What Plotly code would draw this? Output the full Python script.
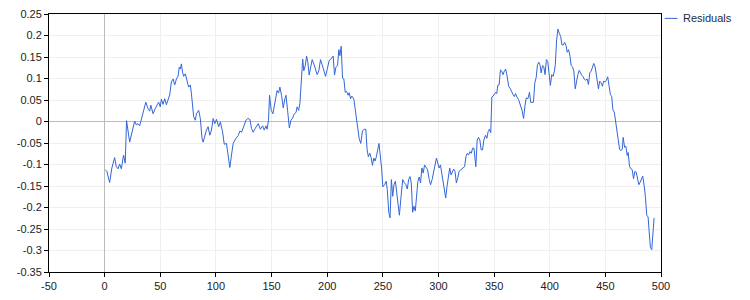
import plotly.graph_objects as go

x_vals = [
    0.6, 2, 4.5, 6.5, 9, 10.5, 12, 13.5, 15, 17, 18.5, 19.7, 22.5, 24.5, 27, 28.5, 30, 31.5, 33.5, 36,
    37, 39, 40.5, 41.5, 43.5, 45.5, 47, 48.5, 50, 51, 52.5, 54, 55.5, 57, 58.5, 60, 61.5, 63, 64.5, 66,
    67, 68, 69, 70, 71, 72.5, 74, 75.5, 77, 78, 80, 81.5, 82.5, 84.5, 86, 87.5, 88.5, 90, 91.5, 93,
    94.5, 96, 97.5, 99, 100.5, 102.5, 104, 106, 107.5, 109.5, 111, 112.5, 114, 115.5, 118, 120,
    121.6, 123, 124.5, 127, 128.7, 130.5, 132, 133.5, 135.3, 138, 140, 142, 143.4, 145, 146, 147.3,
    148.2, 149.7, 151.2, 152, 153, 154, 155, 156.3, 157.5, 159, 160.5, 162, 163, 164.4, 166, 167.4,
    169, 170.4, 172, 173, 174.3, 175.5, 176.7, 178, 179, 180.3, 181.5, 182.6, 183.8, 185, 186.5, 188,
    189.5, 191, 192.5, 194, 195.5, 197, 198.5, 200, 201.8, 203.3, 205.4, 206.6, 207.8, 209.3, 210.5,
    211.4, 212.6, 213.8, 215, 216.2, 217.4, 218.9, 219.8, 221, 222.2, 224, 225.4, 227, 227.8, 228.7,
    230.2, 231.7, 233.2, 234.7, 235.9, 237, 238.3, 239.5, 240.7, 241.9, 243, 244.2, 245.4, 246.6,
    249, 250, 251.5, 253, 254, 255.4, 256.5, 257.7, 258.9, 260, 261.3, 262.5, 263.7, 264.9, 266.4,
    267.9, 269.3, 270.8, 272, 273.2, 274.4, 275.6, 276.8, 278, 279.2, 280.4, 281.5, 282.7, 283.9,
    285.1, 286.3, 287.5, 288.7, 290.2, 291.7, 292.9, 294.3, 295.8, 297, 298.2, 299.4, 300.6, 301.8,
    303, 304.2, 305.4, 306.5, 307.7, 308.9, 310.1, 311.3, 312.5, 313.7, 314.9, 316.1, 317.3, 318.5,
    320.2, 322, 323.5, 324.7, 325.9, 327.1, 328.3, 329.5, 330.7, 331.9, 333.6, 334.8, 336, 337.2,
    338.4, 339.6, 340.8, 342.3, 343.5, 344.6, 345.8, 347, 348, 349.1, 350.3, 351.5, 352.4, 353.3,
    354.5, 355.7, 356.9, 358, 359.2, 360.4, 361.6, 363.1, 364.6, 365.8, 367, 368.2, 369.3, 370.5, 372,
    375, 376.5, 377.7, 378.9, 380.4, 381.8, 383, 384.2, 385.4, 386.6, 387.8, 389, 390.2, 391.4, 392.3,
    393.5, 394.6, 395.8, 397, 398.2, 399.4, 400.6, 401.8, 403, 404.2, 405, 406.2, 407.4, 408.6, 409.8,
    411, 412.2, 413.4, 414.6, 415.8, 417, 418.2, 419.3, 420.5, 421.7, 422.9, 424.1, 425.3, 426.5,
    427.7, 428.9, 430, 431.2, 432.4, 433.6, 434.8, 436, 437.2, 438.4, 439.6, 440.8, 442, 442.9, 443.8,
    444.9, 446.1, 447.3, 448.5, 449.7, 450.9, 452.1, 453.3, 454.5, 455.7, 456.8, 458, 459.2, 460.4,
    461.6, 462.8, 464, 465.2, 466, 467.3, 468.5, 469.6, 470.5, 471.7, 472.9, 474.1, 475.3, 476.5,
    477.7, 478.9, 480.1, 481.3, 482.4, 483.6, 484.8, 486, 487.2, 488.4, 489.6, 490.5, 491.7, 492.6,
    493.8,
]

residuals = [
    -0.112, -0.116, -0.142, -0.108, -0.084, -0.105, -0.11, -0.099, -0.11, -0.078, -0.097, 0.002,
    -0.048, -0.028, 0.001, -0.008, -0.005, -0.01, 0.011, 0.038, 0.045, 0.03, 0.024, 0.038, 0.018,
    0.03, 0.038, 0.045, 0.034, 0.052, 0.04, 0.053, 0.039, 0.049, 0.062, 0.092, 0.099, 0.085, 0.099,
    0.105, 0.126, 0.122, 0.134, 0.115, 0.105, 0.111, 0.095, 0.08, 0.085, 0.065, 0.011, 0.003, 0.018,
    0.026, 0.007, -0.039, -0.048, -0.032, -0.02, -0.012, -0.032, -0.02, 0.007, -0.005, 0.005,
    -0.012, -0.001, -0.024, -0.053, -0.051, -0.085, -0.107, -0.078, -0.051, -0.039, -0.033,
    -0.022, -0.025, -0.015, 0.003, 0.007, 0.005, -0.016, -0.025, -0.016, -0.005, -0.018, -0.01,
    -0.02, -0.01, -0.018, 0.003, 0.061, 0.026, 0.018, 0.03, 0.052, 0.062, 0.072, 0.066, 0.08, 0.061,
    0.032, 0.053, 0.061, 0.026, -0.015, 0.003, 0.008, 0.018, 0.021, 0.034, 0.026, 0.042, 0.107,
    0.145, 0.118, 0.13, 0.152, 0.138, 0.108, 0.122, 0.144, 0.134, 0.122, 0.109, 0.118, 0.144, 0.132,
    0.116, 0.105, 0.121, 0.142, 0.145, 0.152, 0.108, 0.126, 0.13, 0.167, 0.153, 0.175, 0.101, 0.099,
    0.068, 0.07, 0.061, 0.067, 0.053, 0.059, 0.052, 0.026, -0.001, -0.028, -0.039, -0.051, -0.022,
    -0.018, -0.018, -0.066, -0.082, -0.074, -0.084, -0.102, -0.085, -0.092, -0.082, -0.066, -0.051,
    -0.112, -0.152, -0.147, -0.139, -0.158, -0.212, -0.224, -0.135, -0.174, -0.147, -0.139, -0.166,
    -0.197, -0.218, -0.174, -0.135, -0.142, -0.147, -0.157, -0.135, -0.128, -0.143, -0.211, -0.197,
    -0.208, -0.17, -0.139, -0.129, -0.143, -0.108, -0.12, -0.101, -0.105, -0.112, -0.135, -0.147,
    -0.135, -0.114, -0.097, -0.085, -0.097, -0.108, -0.101, -0.122, -0.143, -0.17, -0.178, -0.151,
    -0.128, -0.108, -0.124, -0.116, -0.111, -0.116, -0.143, -0.132, -0.116, -0.112, -0.108, -0.105,
    -0.082, -0.074, -0.078, -0.07, -0.074, -0.062, -0.062, -0.105, -0.043, -0.037, -0.043, -0.066,
    -0.066, -0.043, -0.032, -0.039, -0.024, -0.018, -0.026, 0.057, 0.059, 0.065, 0.068, 0.065, 0.084,
    0.085, 0.12, 0.117, 0.109, 0.117, 0.122, 0.107, 0.082, 0.076, 0.068, 0.063, 0.058, 0.065, 0.057,
    0.051,
    0.027, 0.007, 0.036, 0.055, 0.053, 0.068, 0.044, 0.044, 0.045, 0.09, 0.102, 0.132, 0.138, 0.13,
    0.113, 0.13, 0.128, 0.109, 0.144, 0.14, 0.105, 0.084, 0.109, 0.105, 0.117, 0.132, 0.19, 0.215,
    0.205, 0.198, 0.178, 0.178, 0.184, 0.177, 0.161, 0.167, 0.152, 0.13, 0.127, 0.117, 0.076, 0.098,
    0.109, 0.119, 0.112, 0.107, 0.104, 0.098, 0.096, 0.099, 0.086, 0.113, 0.117, 0.125, 0.135, 0.127,
    0.109, 0.09, 0.076, 0.094, 0.09, 0.082, 0.094, 0.092, 0.096, 0.104, 0.082, 0.063, 0.058, 0.027,
    0.022, -0.002, -0.029, -0.052, -0.065, -0.068, -0.064, -0.037, -0.06, -0.058, -0.079, -0.072,
    -0.104, -0.11, -0.112, -0.133, -0.116, -0.118, -0.135, -0.147, -0.141, -0.133, -0.127, -0.148,
    -0.175, -0.218, -0.222, -0.264, -0.293, -0.298, -0.26, -0.224,
]

x_ticks = [-50, 0, 50, 100, 150, 200, 250, 300, 350, 400, 450, 500]
y_ticks = [-0.35, -0.3, -0.25, -0.2, -0.15, -0.1, -0.05, 0, 0.05, 0.1, 0.15, 0.2, 0.25]
series_name = "Residuals"

LINE_COLOR = "#3366d6"
TEXT_COLOR = "#222222"
GRID_COLOR = "#efefef"

fig = go.Figure()
fig.add_trace(go.Scatter(
    x=x_vals, y=residuals, mode="lines", name=series_name,
    line=dict(color=LINE_COLOR, width=1), showlegend=False,
))

axis_common = dict(
    showline=True, linecolor="black", linewidth=1, mirror=True,
    ticks="outside", ticklen=4, tickcolor="black", tickwidth=1,
    showgrid=True, gridcolor=GRID_COLOR, gridwidth=1,
    zeroline=True, zerolinecolor="#bbbbbb", zerolinewidth=1,
    automargin=False,
    tickfont=dict(family="Liberation Sans, Arial, sans-serif", size=11, color=TEXT_COLOR),
)

fig.update_xaxes(range=[-50, 500], tickvals=x_ticks,
                 ticktext=[str(v) for v in x_ticks], **axis_common)
fig.update_yaxes(range=[-0.35, 0.25], tickvals=y_ticks,
                 ticktext=[("%g" % v) for v in y_ticks], **axis_common)

# Legend drawn as a line sample + text to match the compact reference legend
fig.add_shape(type="line", xref="paper", yref="paper",
              x0=1.006, x1=1.027, y0=0.983, y1=0.983,
              line=dict(color=LINE_COLOR, width=1))
fig.add_annotation(xref="paper", yref="paper", x=1.032, y=0.983,
                   text=series_name, showarrow=False, xanchor="left", yanchor="middle",
                   font=dict(family="Liberation Sans, Arial, sans-serif", size=11, color="#1c2b4a"))

fig.update_layout(
    width=750, height=300,
    margin=dict(l=49, r=89, t=14, b=28, autoexpand=False),
    paper_bgcolor="white", plot_bgcolor="white",
    font=dict(family="Liberation Sans, Arial, sans-serif", size=11, color=TEXT_COLOR),
)

fig.write_html("out.html")
